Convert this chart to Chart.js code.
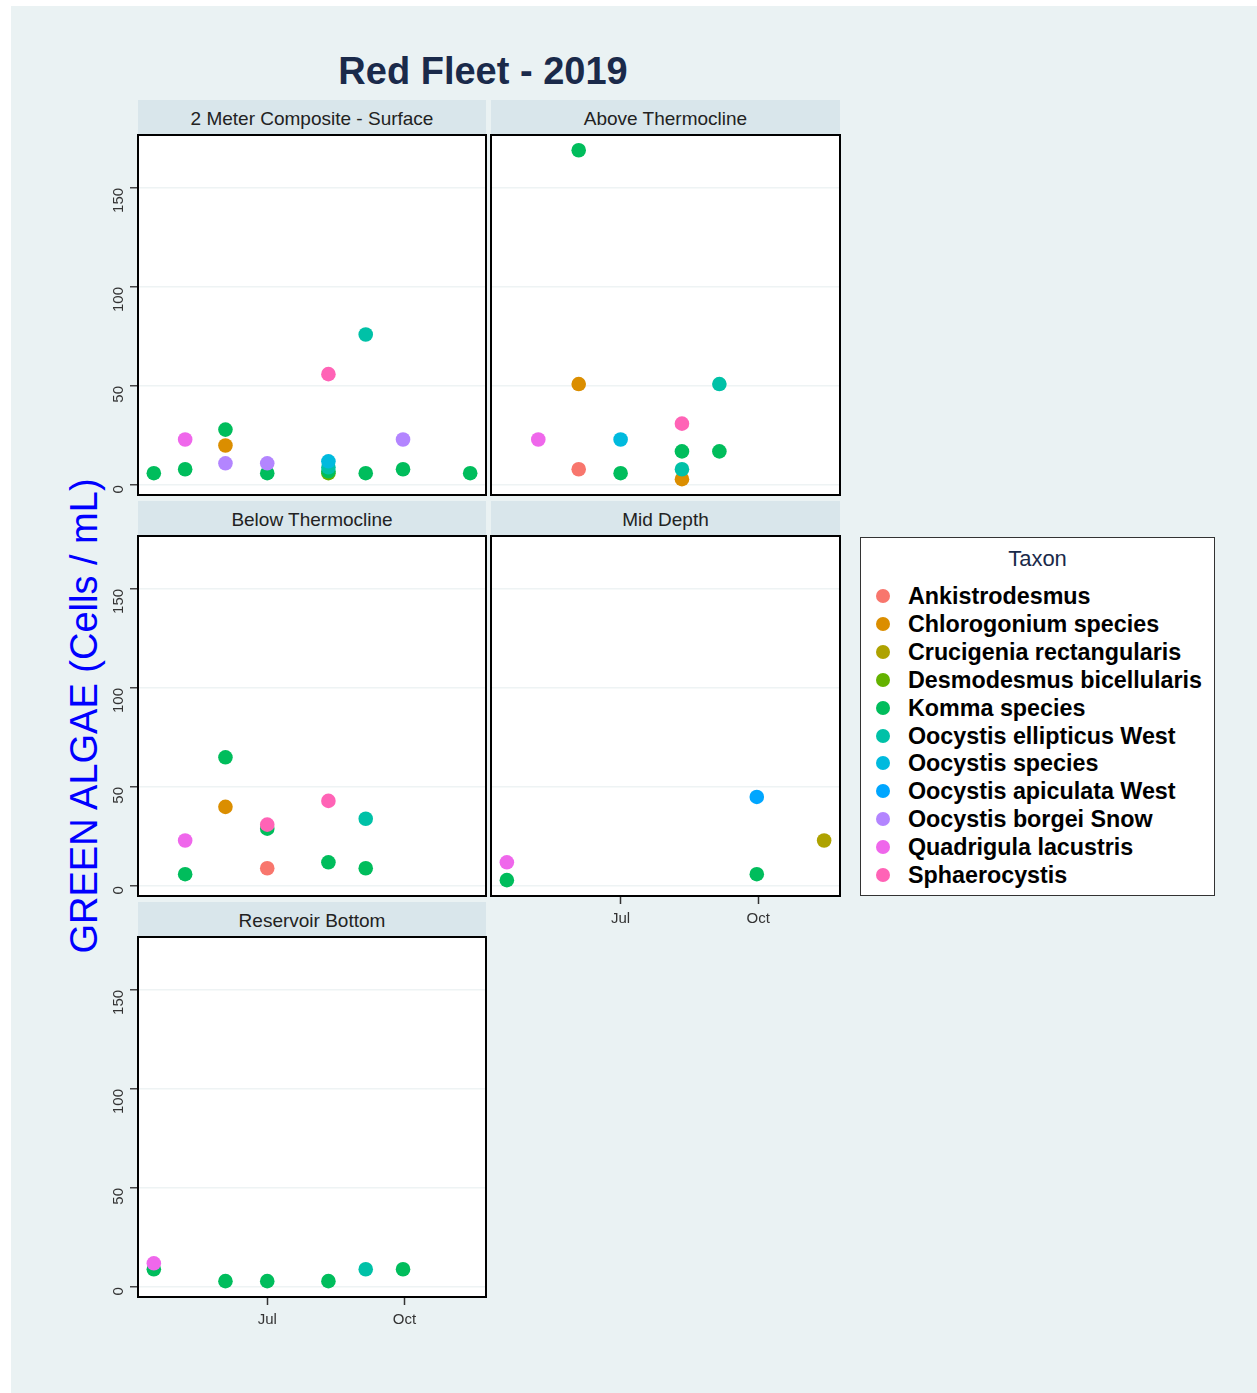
<!DOCTYPE html>
<html>
<head>
<meta charset="utf-8">
<script src="https://cdn.jsdelivr.net/npm/chart.js@4.4.1/dist/chart.umd.min.js"></script>
<style>
  body { margin: 0; width: 1257px; height: 1393px; background: #fff; position: relative; overflow: hidden;
         font-family: "Liberation Sans", Arial, sans-serif; }
  #bg { position: absolute; left: 11px; top: 6px; width: 1246px; height: 1387px; background: #eaf2f3; }
  .abs { position: absolute; }
  #title { left: 483px; top: 71px; transform: translate(-50%, -50%); font-size: 38px; font-weight: bold;
           color: #1a2a4a; white-space: nowrap; line-height: 1; }
  #ylab { left: 84px; top: 716px; transform: translate(-50%, -50%) rotate(-90deg); font-size: 38px;
          color: #0000ff; white-space: nowrap; line-height: 1; }
  .strip { background: #d9e6eb; height: 34px; line-height: 38px; text-align: center; font-size: 19px; color: #222; }
  #legend { left: 860px; top: 537px; width: 353px; height: 357px; background: #fff; border: 1px solid #333; }
  .lg-title { position: absolute; left: 0; top: 8px; width: 100%; text-align: center; font-size: 22px; color: #1a2a4a; }
  .lg-row { position: absolute; left: 0; height: 28px; line-height: 28px; font-size: 23.3px; font-weight: bold; color: #000; white-space: nowrap; }
  .lg-dot { position: absolute; left: 15px; top: 7px; width: 14px; height: 14px; border-radius: 50%; }
  .lg-txt { position: absolute; left: 47px; top: 0; }
</style>
</head>
<body>
<div id="bg"></div>
<div id="title" class="abs">Red Fleet - 2019</div>
<div id="ylab" class="abs">GREEN ALGAE (Cells / mL)</div>
<div id="legend" class="abs"><div class="lg-title">Taxon</div></div>

<script>
// taxa and their colours (ggplot hue palette)
const taxa = [
  "Ankistrodesmus", "Chlorogonium species", "Crucigenia rectangularis", "Desmodesmus bicellularis",
  "Komma species", "Oocystis ellipticus West", "Oocystis species", "Oocystis apiculata West",
  "Oocystis borgei Snow", "Quadrigula lacustris", "Sphaerocystis",
];
const taxonColors = [
  "#F8766D", "#DB8E00", "#AEA200", "#64B200", "#00BD5C", "#00C1A7",
  "#00BADE", "#00A6FF", "#B385FF", "#EF67EB", "#FF63B6",
];

// axis ticks (x = day of year 2019)
const xTickDays = [182, 274];
const xTickLabels = ["Jul", "Oct"];
const yTicks = [0, 50, 100, 150];

// rows: [taxon index, day of year, cells/mL]
const surfaceRows = [
  [4, 106, 6], [4, 127, 8], [4, 154, 28], [4, 182, 6], [4, 223, 7], [4, 248, 6], [4, 273, 8], [4, 318, 6],
  [9, 127, 23], [1, 154, 20], [8, 154, 11], [8, 182, 11], [8, 273, 23],
  [3, 223, 6], [5, 223, 9], [6, 223, 12], [10, 223, 56], [5, 248, 76],
];
const aboveRows = [
  [9, 127, 23], [4, 154, 169], [1, 154, 51], [0, 154, 8], [6, 182, 23], [4, 182, 6],
  [10, 223, 31], [4, 223, 17], [5, 223, 8], [1, 223, 3], [5, 248, 51], [4, 248, 17],
];
const belowRows = [
  [9, 127, 23], [4, 127, 6], [4, 154, 65], [1, 154, 40], [10, 182, 31], [4, 182, 29], [0, 182, 9],
  [10, 223, 43], [4, 223, 12], [5, 248, 34], [4, 248, 9],
];
const midRows = [
  [9, 106, 12], [4, 106, 3], [7, 273, 45], [4, 273, 6], [2, 318, 23],
];
const bottomRows = [
  [9, 106, 12], [4, 106, 9], [4, 154, 3], [4, 182, 3], [4, 223, 3], [5, 248, 9], [4, 273, 9],
];

const panels = [
  { title: "2 Meter Composite - Surface", rows: surfaceRows, col: 0, row: 0, showX: false },
  { title: "Above Thermocline", rows: aboveRows, col: 1, row: 0, showX: false },
  { title: "Below Thermocline", rows: belowRows, col: 0, row: 1, showX: false },
  { title: "Mid Depth", rows: midRows, col: 1, row: 1, showX: true },
  { title: "Reservoir Bottom", rows: bottomRows, col: 0, row: 2, showX: true },
];

const colLeft = [138, 491];
const colWidth = [348, 349];
const plotTop = [135, 536, 937];
const plotHeight = 360;

// white panel + black frame
const panelFrame = {
  id: "panelFrame",
  beforeDraw(chart) {
    const { ctx, chartArea: a } = chart;
    ctx.save();
    ctx.fillStyle = "#fff";
    ctx.fillRect(a.left, a.top, a.right - a.left, a.bottom - a.top);
    ctx.restore();
  },
  afterDraw(chart) {
    const { ctx, chartArea: a } = chart;
    ctx.save();
    ctx.strokeStyle = "#000";
    ctx.lineWidth = 2;
    ctx.strokeRect(a.left, a.top, a.right - a.left, a.bottom - a.top);
    ctx.restore();
  },
};

// keep the plot box where it is: no label overhang padding
function noPad(s) {
  s.paddingLeft = 0;
  s.paddingRight = 0;
  s.paddingTop = 0;
  s.paddingBottom = 0;
}

panels.forEach((p) => {
  const left = colLeft[p.col];
  const w = colWidth[p.col];
  const top = plotTop[p.row];
  const yw = p.col === 0 ? 40 : 4;
  const xh = p.showX ? 36 : 0;

  const strip = document.createElement("div");
  strip.className = "abs strip";
  strip.style.left = left + "px";
  strip.style.top = (top - 35) + "px";
  strip.style.width = w + "px";
  strip.textContent = p.title;
  document.body.appendChild(strip);

  const canvas = document.createElement("canvas");
  canvas.className = "abs";
  canvas.width = yw + w + 4;
  canvas.height = plotHeight + 8 + xh;
  canvas.style.left = (left - yw) + "px";
  canvas.style.top = (top - 4) + "px";
  document.body.appendChild(canvas);

  const datasets = taxa.map((name, i) => ({
    label: name,
    data: p.rows.filter((r) => r[0] === i).map((r) => ({ x: r[1], y: r[2] })),
    backgroundColor: taxonColors[i],
    borderWidth: 0,
    pointRadius: 7.3,
    pointHoverRadius: 7.3,
    order: -i,
  }));

  new Chart(canvas.getContext("2d"), {
    type: "scatter",
    data: { datasets },
    plugins: [panelFrame],
    options: {
      responsive: false,
      animation: false,
      devicePixelRatio: 1,
      layout: { autoPadding: false, padding: { top: 4, right: 4, bottom: 4, left: 0 } },
      plugins: { legend: { display: false }, tooltip: { enabled: false } },
      scales: {
        x: {
          type: "linear",
          display: p.showX,
          min: 95.4,
          max: 328.6,
          border: { display: false },
          grid: { drawOnChartArea: false, tickLength: 8, tickColor: "#333", tickWidth: 1.5 },
          ticks: {
            padding: 6,
            color: "#333",
            font: { family: "'Liberation Sans', Arial", size: 15 },
            callback: (v) => xTickLabels[xTickDays.indexOf(v)],
          },
          afterBuildTicks: (s) => { s.ticks = xTickDays.map((v) => ({ value: v })); },
          afterFit: (s) => { s.height = xh; noPad(s); },
        },
        y: {
          min: -5,
          max: 176.7,
          border: { display: false },
          grid: {
            color: "#eef3f4",
            lineWidth: 1.5,
            drawTicks: p.col === 0,
            tickLength: 8,
            tickColor: "#444",
            tickWidth: 1.5,
          },
          ticks: {
            display: p.col === 0,
            minRotation: 90,
            maxRotation: 90,
            padding: 11,
            color: "#333",
            font: { family: "'Liberation Sans', Arial", size: 15 },
            callback: (v) => String(v),
          },
          afterBuildTicks: (s) => { s.ticks = yTicks.map((v) => ({ value: v })); },
          afterFit: (s) => { s.width = yw; noPad(s); },
        },
      },
    },
  });
});

// legend
const legend = document.getElementById("legend");
taxa.forEach((name, i) => {
  const row = document.createElement("div");
  row.className = "lg-row";
  row.style.top = (44 + i * 27.9) + "px";
  row.innerHTML = '<span class="lg-dot" style="background:' + taxonColors[i] + '"></span><span class="lg-txt"></span>';
  row.querySelector(".lg-txt").textContent = name;
  legend.appendChild(row);
});
</script>
</body>
</html>
